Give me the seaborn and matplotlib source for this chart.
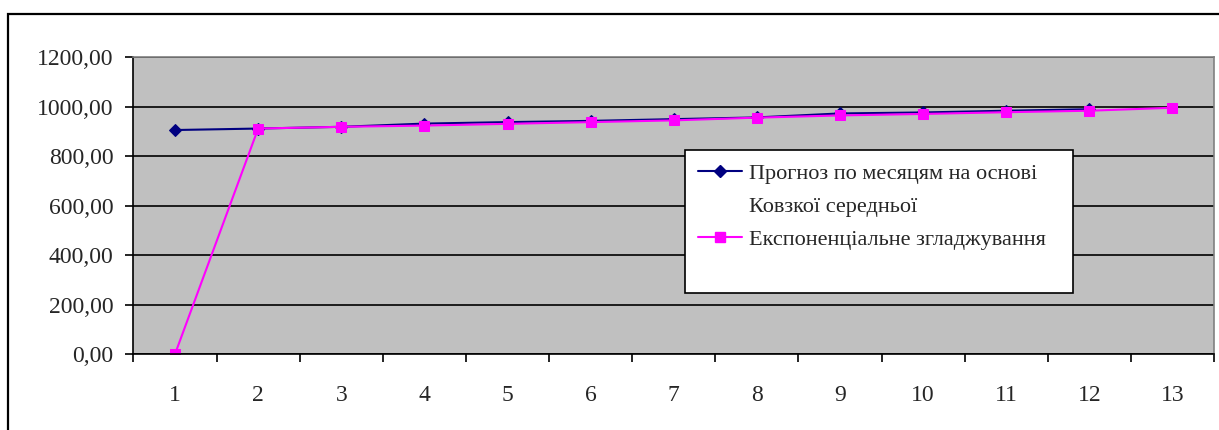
import matplotlib.pyplot as plt
import matplotlib.patches as mpatches
from matplotlib.lines import Line2D
from matplotlib.ticker import FixedLocator, FuncFormatter
import seaborn as sns
import pandas as pd

# data
months = list(range(1, 14))
moving_avg = [905, 911, 918, 931, 937, 942, 949, 956, 972, 976, 983, 989]
exp_smooth = [0, 911, 918, 923, 930, 937, 944, 955, 964, 970, 977, 983, 995]

label_ma = ["Прогноз по месяцям на основі", "Ковзкої середньої"]
label_es = "Експоненціальне згладжування"

df_ma = pd.DataFrame({"month": months[:len(moving_avg)], "value": moving_avg})
df_es = pd.DataFrame({"month": months, "value": exp_smooth})

sns.set_style("white")
plt.rcParams["font.family"] = ["Liberation Serif", "DejaVu Serif"]
FS = 17

fig = plt.figure(figsize=(12.19, 4.30), dpi=100)
ax = fig.add_axes([0.1095, 0.1767, 0.8864, 0.6907])
ax.set_facecolor("#C0C0C0")

sns.lineplot(data=df_ma, x="month", y="value", ax=ax, color="#000080",
             marker="D", markersize=6.5, markeredgecolor="#000080",
             linewidth=1.5, legend=False)
sns.lineplot(data=df_es, x="month", y="value", ax=ax, color="#FF00FF",
             marker="s", markersize=7, markeredgecolor="#FF00FF",
             linewidth=1.5, legend=False)

ax.set_xlim(0.5, 13.5)
ax.set_ylim(0, 1200)
ax.set_xlabel("")
ax.set_ylabel("")

ax.set_xticks(months)
ax.set_xticklabels([str(m) for m in months])
ax.xaxis.set_minor_locator(FixedLocator([m + 0.5 for m in range(0, 14)]))
ax.tick_params(axis="x", which="major", length=0, pad=22, labelsize=FS)
ax.tick_params(axis="x", which="minor", length=5.8, width=1.2, direction="out",
               color="black", bottom=True)

ax.set_yticks(range(0, 1201, 200))
ax.yaxis.set_major_formatter(FuncFormatter(lambda v, p: f"{v:.2f}".replace(".", ",")))
ax.tick_params(axis="y", length=5.8, width=1.2, direction="out", color="black",
               left=True, labelsize=FS, pad=8.5)

ax.grid(axis="y", color="black", linewidth=1.2)
ax.grid(axis="x", visible=False)
ax.set_axisbelow(True)

for side in ["left", "bottom"]:
    ax.spines[side].set_color("black")
    ax.spines[side].set_linewidth(1.2)
for side in ["top", "right"]:
    ax.spines[side].set_color("#808080")
    ax.spines[side].set_linewidth(1.2)

# legend: first series label wraps onto a second line, box has empty space below
h_ma = Line2D([], [], color="#000080", marker="D", markersize=6.5, linewidth=1.5)
h_es = Line2D([], [], color="#FF00FF", marker="s", markersize=7, linewidth=1.5)
h_blank = Line2D([], [], color="none")
leg = ax.legend([h_ma, h_blank, h_es, h_blank],
                [label_ma[0], label_ma[1], label_es, " "],
                loc="upper left", bbox_to_anchor=(0.562, 0.335, 0.318, 0.316),
                mode="expand",
                bbox_transform=fig.transFigure, fontsize=16, frameon=True,
                fancybox=False, edgecolor="black", framealpha=1,
                handlelength=1.95, borderpad=0.6, labelspacing=0.55,
                handletextpad=0.32, borderaxespad=0)
leg.get_texts()[3].set_fontsize(8)
leg.get_frame().set_linewidth(1.2)

# outer chart border
fig.patches.append(mpatches.Rectangle((0.0066, -0.1), 1.2, 0.1 + 0.967,
                                      transform=fig.transFigure, fill=False,
                                      edgecolor="black", linewidth=1.6))

fig.savefig("out.png", dpi=100)
